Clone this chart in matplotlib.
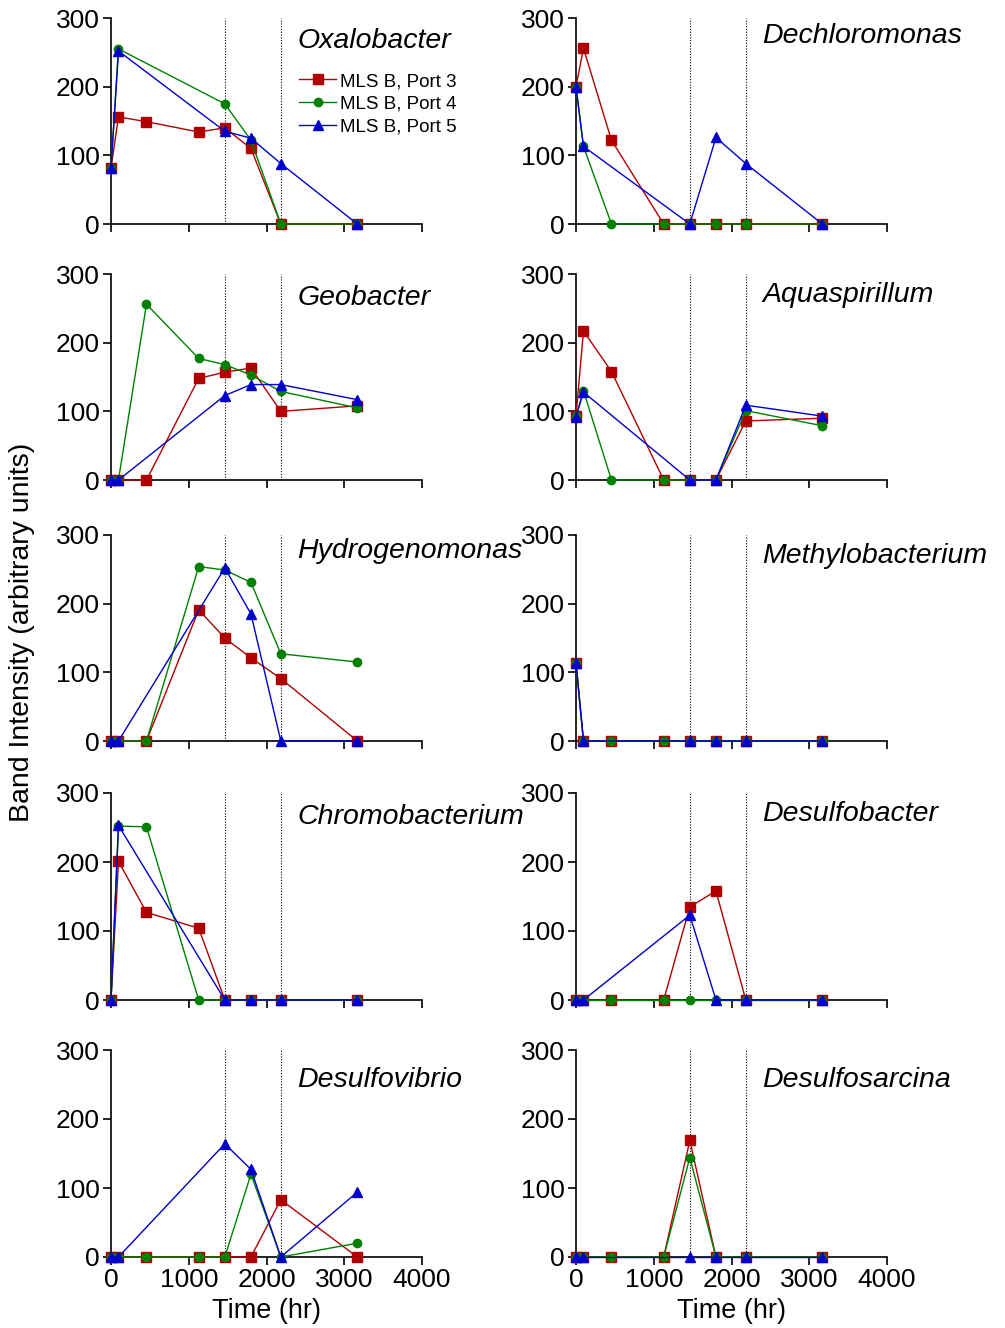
import numpy as np
import matplotlib
matplotlib.use('Agg')
import matplotlib.pyplot as plt

plt.rcParams['font.family'] = ['Liberation Sans', 'DejaVu Sans']

# sampling times (hr)
times = [0, 96, 456, 1128, 1464, 1800, 2184, 3168]
markers_at = [1464, 2184]  # dotted reference lines

series_names = ['MLS B, Port 3', 'MLS B, Port 4', 'MLS B, Port 5']
colors = ['#b00000', '#008000', '#0000cc']
marker_styles = ['s', 'o', '^']
marker_sizes = [6.5, 6.0, 7.5]

taxa = ['Oxalobacter', 'Dechloromonas', 'Geobacter', 'Aquaspirillum',
        'Hydrogenomonas', 'Methylobacterium', 'Chromobacterium',
        'Desulfobacter', 'Desulfovibrio', 'Desulfosarcina']

N = None
# band intensities, one list per port, None = not measured
port3 = {
    'Oxalobacter':      [81, 156, 149, 134, 140, 110, 0, 0],
    'Dechloromonas':    [200, 256, 122, 0, 0, 0, 0, 0],
    'Geobacter':        [0, 0, 0, 148, 157, 163, 100, 108],
    'Aquaspirillum':    [93, 217, 158, 0, 0, 0, 86, 90],
    'Hydrogenomonas':   [0, 0, 0, 191, 150, 121, 91, 0],
    'Methylobacterium': [114, 0, 0, 0, 0, 0, 0, 0],
    'Chromobacterium':  [0, 201, 127, 104, 0, 0, 0, 0],
    'Desulfobacter':    [0, 0, 0, 0, 135, 158, 0, 0],
    'Desulfovibrio':    [0, 0, 0, 0, 0, 0, 83, 0],
    'Desulfosarcina':   [0, 0, 0, 0, 169, 0, 0, 0],
}
port4 = {
    'Oxalobacter':      [81, 255, N, N, 175, 122, 0, 0],
    'Dechloromonas':    [200, 113, 0, 0, 0, 0, 0, 0],
    'Geobacter':        [0, 0, 256, 177, 168, 153, 129, 105],
    'Aquaspirillum':    [93, 130, 0, 0, 0, 0, 101, 79],
    'Hydrogenomonas':   [0, 0, 0, 254, 249, 231, 127, 115],
    'Methylobacterium': [114, 0, 0, 0, 0, 0, 0, 0],
    'Chromobacterium':  [0, 252, 251, 0, 0, 0, 0, 0],
    'Desulfobacter':    [0, 0, 0, 0, 0, 0, 0, 0],
    'Desulfovibrio':    [0, 0, 0, 0, 0, 120, 0, 20],
    'Desulfosarcina':   [0, 0, 0, 0, 144, 0, 0, 0],
}
port5 = {
    'Oxalobacter':      [81, 252, N, N, 135, 125, 88, 0],
    'Dechloromonas':    [200, 113, N, N, 0, 126, 88, 0],
    'Geobacter':        [0, 0, N, N, 123, 139, 139, 117],
    'Aquaspirillum':    [92, 128, N, N, 0, 0, 109, 93],
    'Hydrogenomonas':   [0, 0, N, N, 252, 185, 0, 0],
    'Methylobacterium': [114, 0, N, N, 0, 0, 0, 0],
    'Chromobacterium':  [0, 253, N, N, 0, 0, 0, 0],
    'Desulfobacter':    [0, 0, N, N, 123, 0, 0, 0],
    'Desulfovibrio':    [0, 0, N, N, 164, 127, 0, 94],
    'Desulfosarcina':   [0, 0, N, N, 0, 0, 0, 0],
}
ports = [port3, port4, port5]

# where each taxon name sits (axes fraction)
title_y = [0.89, 0.915, 0.885, 0.9, 0.92, 0.9, 0.885, 0.9, 0.855, 0.855]

W, H = 1005, 1328
fig = plt.figure(figsize=(W / 100, H / 100), dpi=100)

col_left = [111, 576]
row_px = [(18, 224), (274, 480), (535, 741), (793, 1000), (1050, 1257)]

for i, name in enumerate(taxa):
    r, c = divmod(i, 2)
    top, bot = row_px[r]
    ax = fig.add_axes([col_left[c] / W, 1 - bot / H, 311 / W, (bot - top) / H])

    for v in markers_at:
        ax.axvline(v, color='black', lw=0.8, ls=(0, (1, 1.5)), zorder=1)

    for k, port in enumerate(ports):
        vals = port[name]
        xs = [t for t, v in zip(times, vals) if v is not None]
        ys = [v for v in vals if v is not None]
        ax.plot(xs, ys, color=colors[k], marker=marker_styles[k], lw=1.0,
                ms=marker_sizes[k], label=series_names[k], clip_on=False,
                zorder=3 + k)

    ax.set_xlim(0, 4000)
    ax.set_ylim(0, 300)
    ax.set_xticks([0, 1000, 2000, 3000, 4000])
    ax.set_yticks([0, 100, 200, 300])
    ax.spines['top'].set_visible(False)
    ax.spines['right'].set_visible(False)
    for s in ['left', 'bottom']:
        ax.spines[s].set_linewidth(1.2)
    ax.tick_params(direction='out', length=6, width=1.2, labelsize=19, pad=2)
    if r < 4:
        ax.set_xticklabels([])
    else:
        ax.set_xlabel('Time (hr)', fontsize=19.5, labelpad=4)

    ax.text(0.6, title_y[i], name, transform=ax.transAxes, fontsize=20.5,
            style='italic', ha='left', va='center')

    if i == 0:
        ax.legend(loc='upper left', bbox_to_anchor=(0.58, 0.77), frameon=False,
                  fontsize=13.5, handlelength=2.0, handletextpad=0.2,
                  labelspacing=0.3, borderaxespad=0)

fig.text(22 / W, 1 - 632 / H, 'Band Intensity (arbitrary units)', rotation=90,
         fontsize=20.5, ha='center', va='center')

fig.savefig('out.png', dpi=100)
